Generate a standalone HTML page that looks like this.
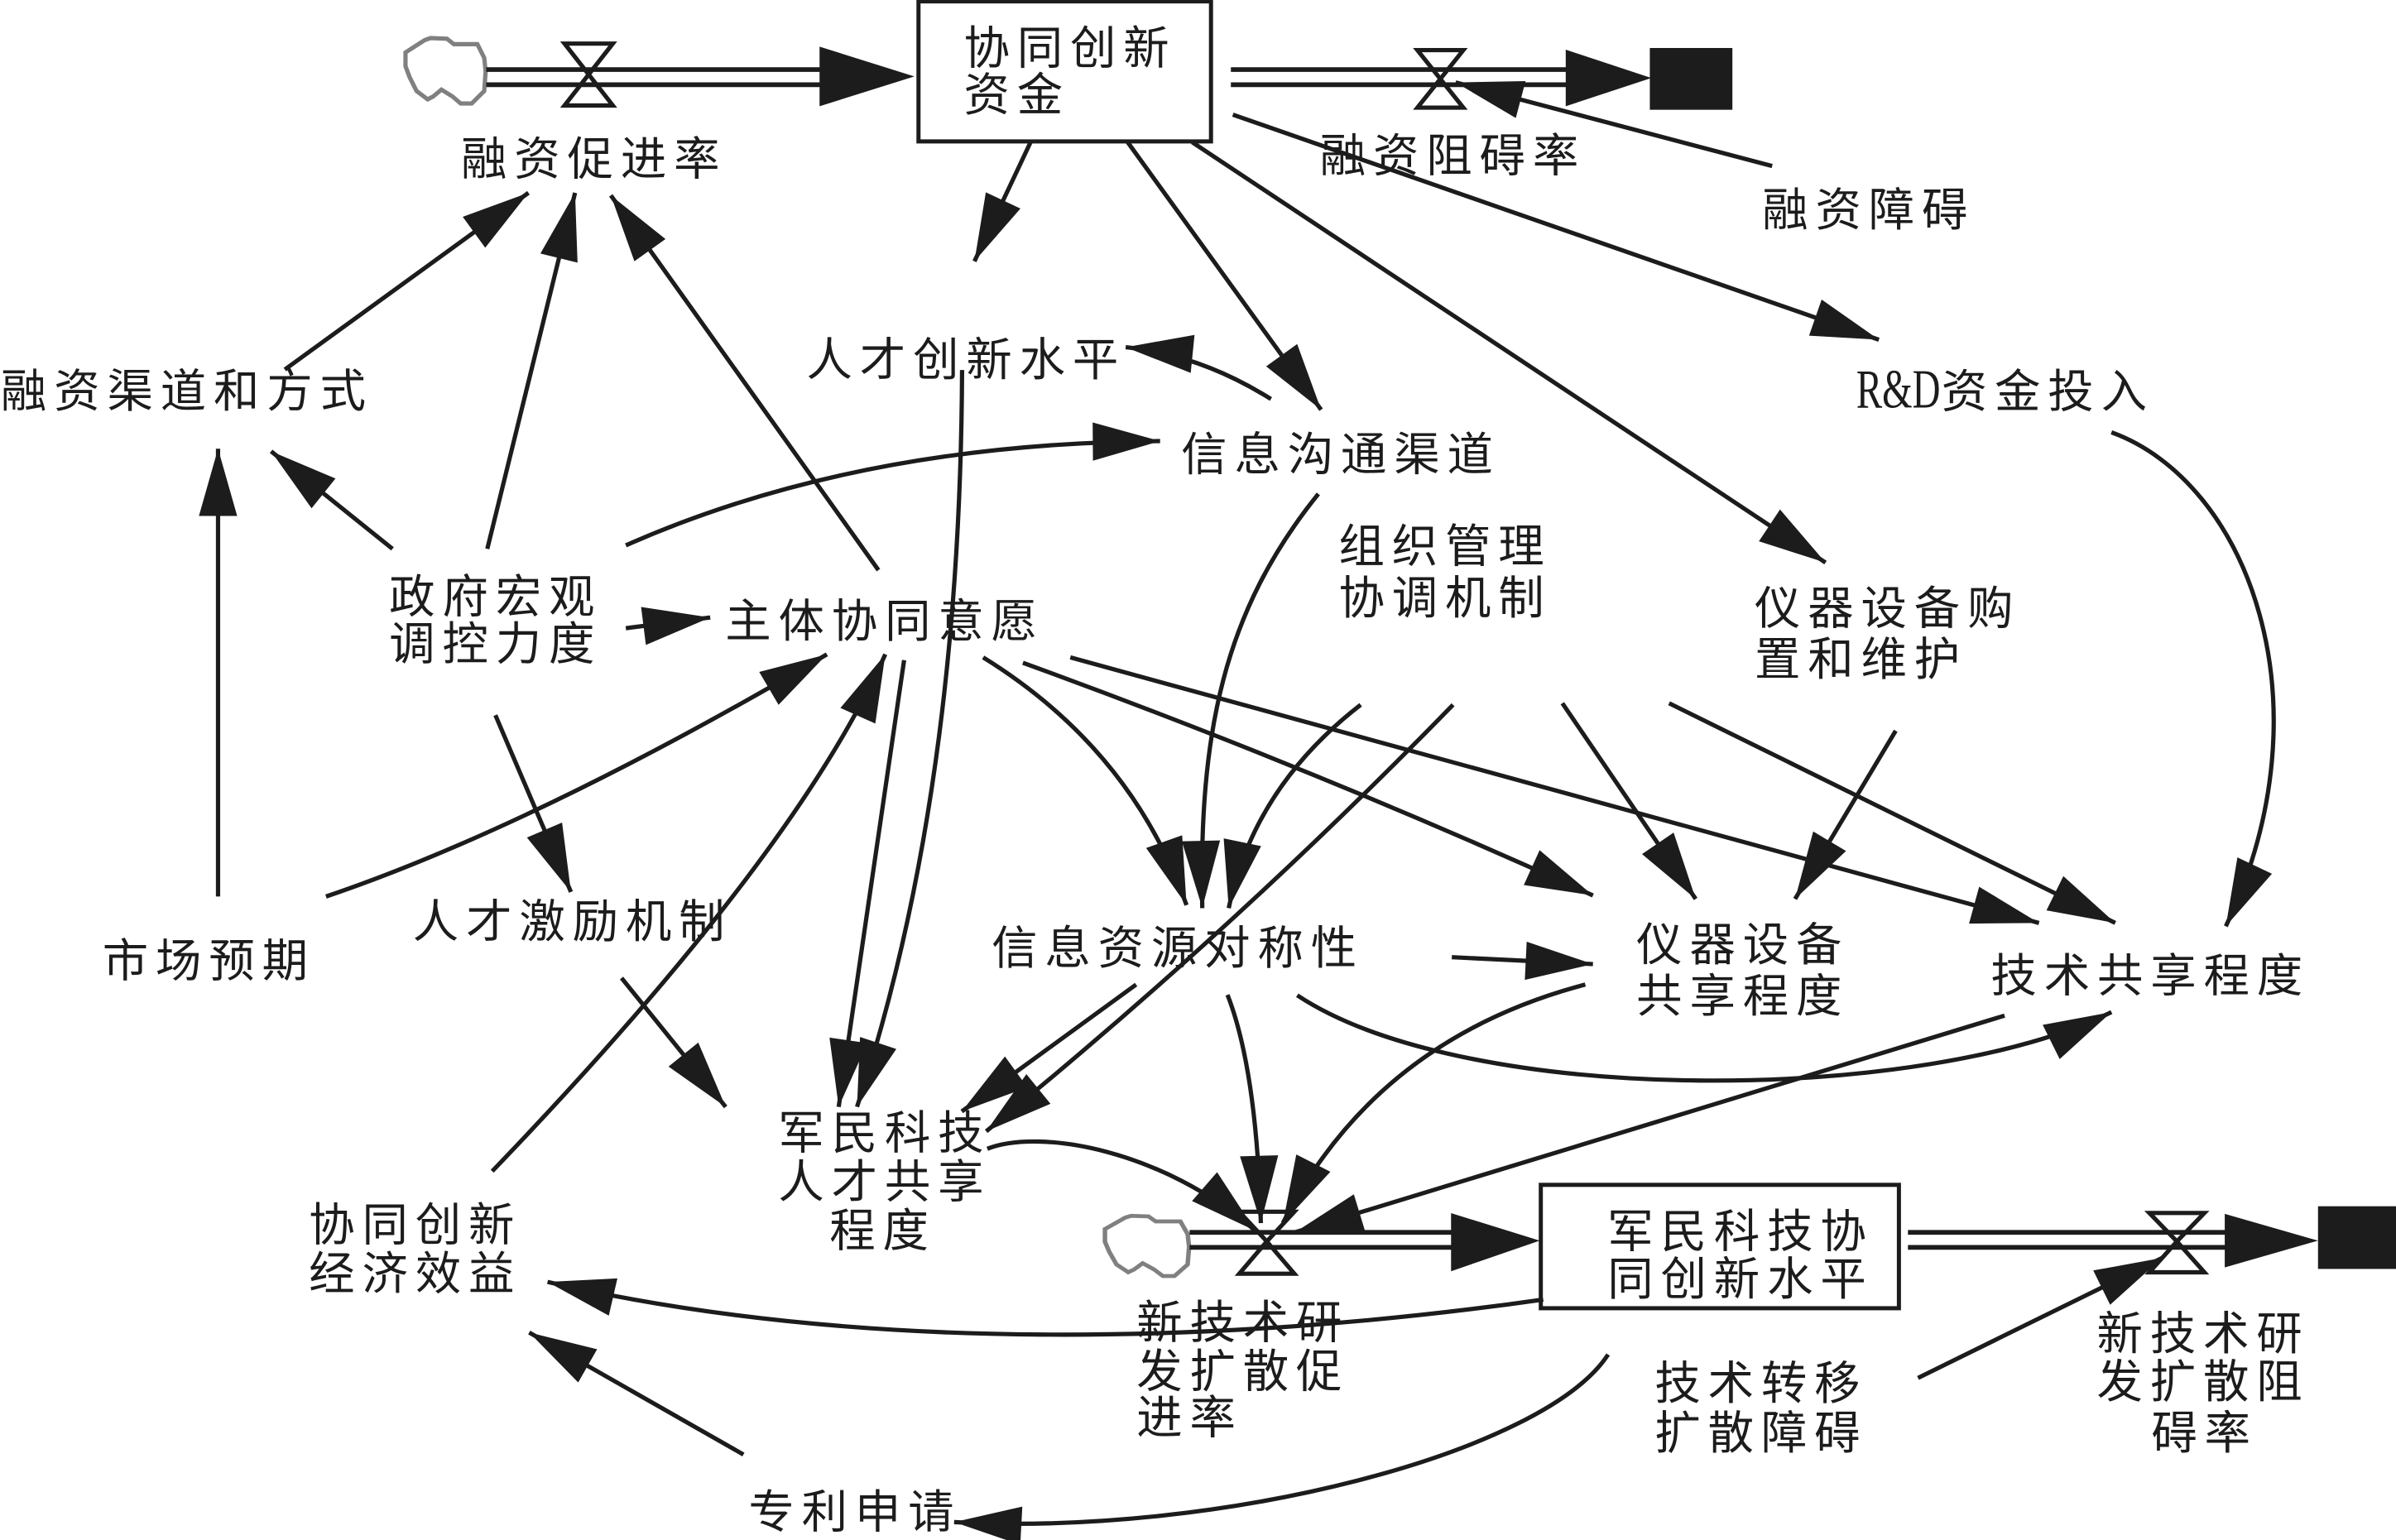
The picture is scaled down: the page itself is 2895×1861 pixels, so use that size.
<!DOCTYPE html>
<html>
<head>
<meta charset="utf-8">
<style>
html,body{margin:0;padding:0;background:#fff;overflow:hidden;}
svg{display:block;}
.t{font-family:"Liberation Sans","Noto Sans CJK SC",sans-serif;font-size:30px;letter-spacing:4.8px;fill:#1c1c1c;}
.c{fill:none;stroke:#1c1c1c;stroke-width:2.8;marker-end:url(#a);}
.p{stroke:#1c1c1c;stroke-width:3.1;}
.v{fill:none;stroke:#1c1c1c;stroke-width:2.8;stroke-linejoin:miter;}
.cl{fill:none;stroke:#808080;stroke-width:2.8;}
</style>
</head>
<body>
<svg width="2895" height="1861" viewBox="0 0 1567 1007.3" preserveAspectRatio="none" xmlns="http://www.w3.org/2000/svg">
<defs>
<marker id="a" markerUnits="userSpaceOnUse" markerWidth="46" markerHeight="26" viewBox="0 0 46 26" refX="44" refY="12.5" orient="auto" overflow="visible">
<path d="M0,0 L44,12.5 L0,25 Z" fill="#1c1c1c"/>
</marker>
<path id="cloud" d="M265.2,34.3 L277.8,26.2 L281.5,24.9 L292.3,25.3 L296.8,28.9 L312.2,28.9 L316.7,37.9 L317.6,46.9 L316.7,59.5 L308.5,67.7 L301.3,67.7 L295.9,63.1 L288.7,58.6 L283.3,63.1 L279.7,65 L272.4,59.5 L267.9,50.5 L265.2,43.3 Z"/>
</defs>
<rect x="0" y="0" width="1567" height="1007.3" fill="#fff"/>

<!-- ===== Top stock/flow ===== -->
<use href="#cloud" class="cl"/>
<line class="p" x1="318" y1="45.5" x2="537" y2="45.5"/>
<line class="p" x1="318" y1="55.4" x2="537" y2="55.4"/>
<polygon points="536,30.5 536,69.5 598,50" fill="#1c1c1c"/>
<polygon class="v" points="369.2,28.5 400.8,28.5 385,48.7 369.2,69 400.8,69 385,48.7"/>
<rect x="600.7" y="0.9" width="191.3" height="91.6" fill="#fff" stroke="#1c1c1c" stroke-width="2.7"/>
<text class="t" x="630.3" y="42">协同创新</text>
<text class="t" x="630.3" y="72.5">资金</text>

<line class="p" x1="805" y1="45.5" x2="1025" y2="45.5"/>
<line class="p" x1="805" y1="55.4" x2="1025" y2="55.4"/>
<polygon points="1024,32.5 1024,69.5 1080,51" fill="#1c1c1c"/>
<rect x="1079" y="31.4" width="54" height="40.4" fill="#1c1c1c"/>
<polygon class="v" points="927,32.8 957,32.8 942,51.6 927,70.4 957,70.4 942,51.6"/>

<!-- ===== Bottom stock/flow ===== -->
<use href="#cloud" class="cl" transform="translate(721.7,794.8) scale(1.05,0.92) translate(-264.3,-24.4)"/>
<line class="p" x1="778" y1="806.1" x2="950" y2="806.1"/>
<line class="p" x1="778" y1="815.9" x2="950" y2="815.9"/>
<polygon points="949,793.5 949,831.5 1007,811.5" fill="#1c1c1c"/>
<polygon class="v" points="810.5,792.6 846.5,792.6 828.5,812 810.5,833.1 846.5,833.1 828.5,812"/>
<rect x="1007.7" y="775" width="234.2" height="80.7" fill="#fff" stroke="#1c1c1c" stroke-width="2.7"/>
<text class="t" x="1051.3" y="816">军民科技协</text>
<text class="t" x="1051.3" y="847">同创新水平</text>

<line class="p" x1="1247.8" y1="806.1" x2="1456" y2="806.1"/>
<line class="p" x1="1247.8" y1="815.9" x2="1456" y2="815.9"/>
<polygon points="1455,794 1455,829 1516,811.5" fill="#1c1c1c"/>
<rect x="1516" y="789" width="51" height="41" fill="#1c1c1c"/>
<polygon class="v" points="1405.7,793.4 1441.7,793.4 1423.7,812 1405.7,832.2 1441.7,832.2 1423.7,812"/>

<!-- ===== Connectors ===== -->
<path class="c" d="M186.3,241.7 L345.6,126.1"/>
<path class="c" d="M318.7,359 L376.1,126.1"/>
<path class="c" d="M574.5,372.9 L399.5,127.8"/>
<path class="c" d="M256.7,359 L177.3,295.2"/>
<path class="c" d="M142.6,586.4 L142.6,293.5"/>
<path class="c" d="M409.3,356.7 Q560,290 758.7,288.5"/>
<path class="c" d="M409.3,410.9 L464.5,403.9"/>
<path class="c" d="M324,467.8 L373.4,583.4"/>
<path class="c" d="M213.2,586.4 Q350,540 540.8,428"/>
<path class="c" d="M321.9,766.1 Q520,560 579,428"/>
<path class="c" d="M591.3,431.8 L548.5,724"/>
<path class="c" d="M629.2,242 Q628,520 560.5,724"/>
<path class="c" d="M406.5,639.7 L474.6,724"/>
<path class="c" d="M743,644 L629,727"/>
<path class="c" d="M950.3,461 Q805.7,609.4 645,740"/>
<path class="c" d="M674,93 L637.3,170.9"/>
<path class="c" d="M737.5,93 L864,268"/>
<path class="c" d="M779.7,93 L1193.9,368"/>
<path class="c" d="M806.3,75 L1228.8,222.2"/>
<path class="c" d="M1159,108.6 L952,53.9"/>
<path class="c" d="M831.2,261 Q785,232 736.2,227.1"/>
<path class="c" d="M862.2,323.1 C800,400 784,480 786.3,594"/>
<path class="c" d="M889.9,461 Q820,515 803.6,594"/>
<path class="c" d="M643,430 Q740,490 776,592"/>
<path class="c" d="M669,433.5 Q860,503 1041.8,585.7"/>
<path class="c" d="M700,430 L1333.5,603.7"/>
<path class="c" d="M1021.8,460 L1109,588"/>
<path class="c" d="M1091.6,460 L1383.4,603.7"/>
<path class="c" d="M1239.8,478 L1174,588"/>
<path class="c" d="M1380.9,282.8 C1470,315 1525,460 1455.7,605.9"/>
<path class="c" d="M949.5,626.1 L1041.8,630.6"/>
<path class="c" d="M848.4,651 C960,725 1260,722 1380.9,662"/>
<path class="c" d="M1311,664.3 L847,806"/>
<path class="c" d="M1036.8,644 Q900,680 839,800"/>
<path class="c" d="M802.8,650.7 Q822,700 824.6,800"/>
<path class="c" d="M645.7,751.4 C680,738 760,752 821,805"/>
<path class="c" d="M1009.3,850 C800,880 560,885 358.1,838.5"/>
<path class="c" d="M486.2,951.4 L346.1,871.6"/>
<path class="c" d="M1051.7,886 C1010,950 800,1005 624,995.6"/>
<path class="c" d="M1254.4,901.3 L1414,822.8"/>

<!-- ===== Labels ===== -->
<text class="t" x="301.5" y="114.5">融资促进率</text>
<text class="t" x="863.2" y="112.2">融资阻碍率</text>
<text class="t" x="1152.5" y="147.7">融资障碍</text>
<text class="t" x="527.5" y="245.7">人才创新水平</text>
<text class="t" x="0.5" y="266.4">融资渠道和方式</text>
<text class="t" x="772.5" y="307.7">信息沟通渠道</text>
<text x="1214" y="266.7" font-family="Liberation Serif, serif" font-size="36" fill="#1c1c1c" textLength="55" lengthAdjust="spacingAndGlyphs">R&amp;D</text>
<text class="t" x="1269.7" y="266.7">资金投入</text>
<text class="t" x="875.5" y="367.7">组织管理</text>
<text class="t" x="875.5" y="401.7">协调机制</text>
<text class="t" x="1147.5" y="408.5">仪器设备购</text>
<text class="t" x="1147.5" y="441.7">置和维护</text>
<text class="t" x="254.5" y="400.7">政府宏观</text>
<text class="t" x="254.5" y="431.7">调控力度</text>
<text class="t" x="474.3" y="416.7">主体协同意愿</text>
<text class="t" x="67" y="639">市场预期</text>
<text class="t" x="270" y="613.3">人才激励机制</text>
<text class="t" x="648.5" y="630.7">信息资源对称性</text>
<text class="t" x="1070.2" y="628.4">仪器设备</text>
<text class="t" x="1070.2" y="662">共享程度</text>
<text class="t" x="1302" y="648.6">技术共享程度</text>
<text class="t" x="509" y="751.5">军民科技</text>
<text class="t" x="509" y="783.5">人才共享</text>
<text class="t" x="542.5" y="815.5">程度</text>
<text class="t" x="202" y="811.7">协同创新</text>
<text class="t" x="202" y="843.7">经济效益</text>
<text class="t" x="743.3" y="875.5">新技术研</text>
<text class="t" x="743.3" y="907.4">发扩散促</text>
<text class="t" x="743.3" y="937.7">进率</text>
<text class="t" x="1371.3" y="882.7">新技术研</text>
<text class="t" x="1371.3" y="914.3">发扩散阻</text>
<text class="t" x="1407" y="947.7">碍率</text>
<text class="t" x="1082.2" y="915.2">技术转移</text>
<text class="t" x="1082.2" y="947.7">扩散障碍</text>
<text class="t" x="489.5" y="999.4">专利申请</text>
</svg>
</body>
</html>
